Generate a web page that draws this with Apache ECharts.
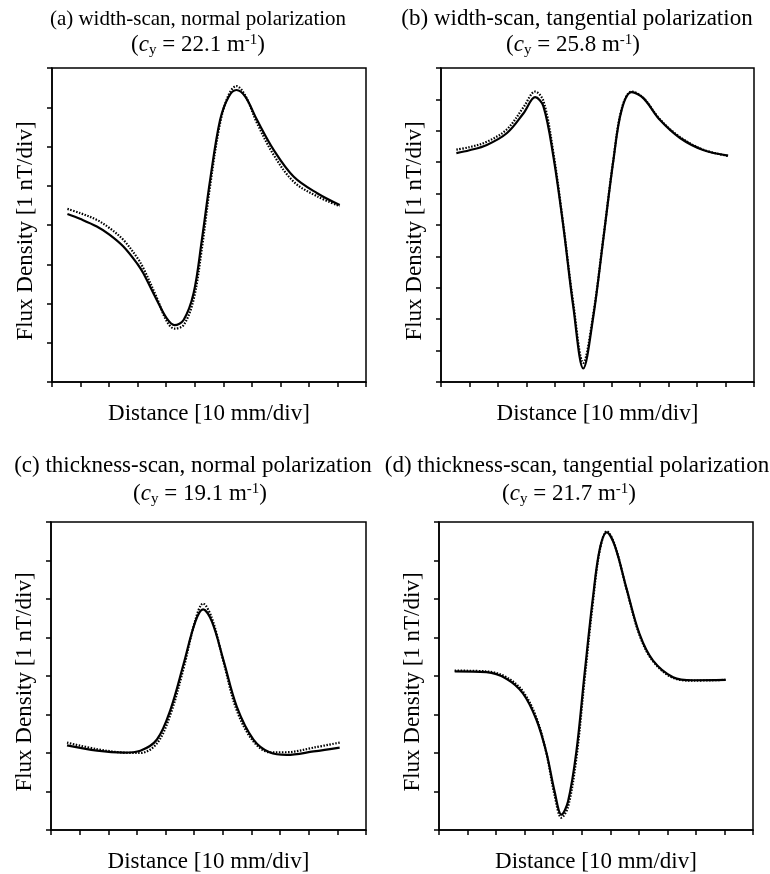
<!DOCTYPE html>
<html>
<head>
<meta charset="utf-8">
<script src="https://cdn.jsdelivr.net/npm/echarts@6/dist/echarts.min.js"></script>
<style>
html,body{margin:0;padding:0;background:#fff;}
#chart{width:770px;height:874px;}
</style>
</head>
<body>
<div id="chart"></div>
<script>
// ---- data (x in divisions of 10 mm, y in divisions of 1 nT) ----
const titlesLine1 = [
  "(a) width-scan, normal polarization",
  "(b) width-scan, tangential polarization",
  "(c) thickness-scan, normal polarization",
  "(d) thickness-scan, tangential polarization"
];
const cyValues = ["22.1", "25.8", "19.1", "21.7"];
const xAxisName = "Distance [10 mm/div]";
const yAxisName = "Flux Density [1 nT/div]";
const yDivs = [8, 10, 8, 8];
const xDivs = 11;

const xA = [0.54, 1.0, 1.57, 2.0, 2.5, 3.0, 3.2, 3.67, 4.02, 4.29, 4.61, 4.96, 5.25, 5.54, 5.89, 6.19, 6.46, 6.77, 7.18, 7.77, 8.47, 9.29, 10.08];
const solidA = [4.28, 4.15, 3.96, 3.76, 3.45, 3.0, 2.77, 2.09, 1.62, 1.45, 1.58, 2.26, 3.62, 5.15, 6.68, 7.27, 7.44, 7.27, 6.68, 5.91, 5.23, 4.81, 4.51];
const dotA = [4.41, 4.3, 4.13, 3.93, 3.62, 3.15, 2.9, 2.15, 1.55, 1.36, 1.45, 2.1, 3.4, 5.0, 6.6, 7.32, 7.54, 7.3, 6.6, 5.78, 5.10, 4.73, 4.48];

const xB = [0.54, 1.0, 1.61, 2.32, 2.9, 3.31, 3.6, 3.95, 4.3, 4.65, 5.0, 5.35, 5.7, 6.06, 6.35, 6.7, 7.11, 7.69, 8.4, 9.21, 10.09];
const solidB = [7.29, 7.38, 7.55, 7.93, 8.56, 9.07, 8.78, 7.18, 4.95, 2.39, 0.43, 2.07, 4.52, 7.07, 8.67, 9.23, 9.04, 8.35, 7.77, 7.39, 7.21];
const dotB = [7.4, 7.48, 7.65, 8.05, 8.75, 9.25, 8.95, 7.3, 5.0, 2.5, 0.61, 2.15, 4.55, 7.1, 8.7, 9.25, 9.05, 8.37, 7.8, 7.4, 7.2];

const xC = [0.56, 1.61, 2.54, 3.12, 3.7, 4.17, 4.63, 5.04, 5.31, 5.62, 6.03, 6.49, 7.07, 7.65, 8.23, 9.17, 10.08];
const solidC = [2.2, 2.06, 2.01, 2.06, 2.35, 3.12, 4.31, 5.41, 5.73, 5.41, 4.39, 3.2, 2.35, 2.01, 1.95, 2.04, 2.14];
const dotC = [2.27, 2.1, 2.01, 2.0, 2.25, 3.0, 4.2, 5.45, 5.88, 5.5, 4.35, 3.1, 2.3, 2.02, 2.02, 2.14, 2.27];

const xD = [0.55, 1.66, 2.36, 2.94, 3.41, 3.76, 4.05, 4.29, 4.52, 4.81, 5.1, 5.39, 5.63, 5.88, 6.16, 6.57, 7.03, 7.5, 8.2, 8.9, 10.04];
const solidD = [4.12, 4.1, 3.93, 3.55, 2.87, 2.02, 1.0, 0.4, 0.74, 2.02, 4.06, 6.02, 7.29, 7.73, 7.38, 6.27, 5.08, 4.4, 3.97, 3.89, 3.9];
const dotD = [4.14, 4.12, 3.97, 3.6, 2.92, 2.0, 0.9, 0.32, 0.6, 1.85, 3.9, 5.9, 7.25, 7.76, 7.4, 6.25, 5.05, 4.38, 3.95, 3.88, 3.9];

const panelX = [xA, xB, xC, xD];
const panelSolid = [solidA, solidB, solidC, solidD];
const panelDot = [dotA, dotB, dotC, dotD];

// ---- layout ----
const FONT = "'Liberation Serif','DejaVu Serif',serif";
const FS = 23;
const grids = [
  {left: 52, top: 68, width: 314, height: 314},
  {left: 441, top: 68, width: 313, height: 314},
  {left: 51, top: 522, width: 315, height: 314},
  {left: 439, top: 522, width: 314, height: 314}
];
const titlePos = [
  {x: 198, x2: 198, y1: 19, y2: 45, fs: 21},
  {x: 577, x2: 573, y1: 19, y2: 45, fs: 23},
  {x: 193, x2: 200, y1: 466, y2: 494, fs: 23},
  {x: 577, x2: 569, y1: 466, y2: 494, fs: 23}
];

const zip = (xs, ys) => xs.map((x, i) => [x, ys[i]]);

const option = {
  animation: false,
  backgroundColor: '#fff',
  grid: grids.map(g => Object.assign({show: true, borderColor: '#000', borderWidth: 1.5, containLabel: false}, g)),
  xAxis: grids.map((g, i) => ({
    gridIndex: i, type: 'value', min: 0, max: xDivs, interval: 1,
    name: xAxisName, nameLocation: 'middle', nameGap: 20,
    nameTextStyle: {fontFamily: FONT, fontSize: FS, color: '#000'},
    axisLine: {show: true, lineStyle: {color: '#000', width: 1.5}},
    axisTick: {show: true, inside: false, length: 5, lineStyle: {color: '#000', width: 1.5}},
    axisLabel: {show: false}, splitLine: {show: false}
  })),
  yAxis: grids.map((g, i) => ({
    gridIndex: i, type: 'value', min: 0, max: yDivs[i], interval: 1,
    name: yAxisName, nameLocation: 'middle', nameGap: 15, nameRotate: 90,
    nameTextStyle: {fontFamily: FONT, fontSize: FS, color: '#000', padding: [0, 12, 0, 0]},
    axisLine: {show: true, lineStyle: {color: '#000', width: 1.5}},
    axisTick: {show: true, inside: false, length: 5, lineStyle: {color: '#000', width: 1.5}},
    axisLabel: {show: false}, splitLine: {show: false}
  })),
  series: [],
  graphic: []
};

for (let i = 0; i < 4; i++) {
  option.series.push({
    type: 'line', xAxisIndex: i, yAxisIndex: i, data: zip(panelX[i], panelSolid[i]),
    smooth: 0.35, showSymbol: false, lineStyle: {color: '#000', width: 2.2}
  });
  option.series.push({
    type: 'line', xAxisIndex: i, yAxisIndex: i, data: zip(panelX[i], panelDot[i]),
    smooth: 0.35, showSymbol: false, lineStyle: {color: '#000', width: 2.2, type: [1.5, 1.5]}
  });
  option.graphic.push({
    type: 'text', x: titlePos[i].x, y: titlePos[i].y1,
    style: {text: titlesLine1[i], font: titlePos[i].fs + 'px ' + FONT, fill: '#000', align: 'center', verticalAlign: 'middle'}
  });
  option.graphic.push({
    type: 'text', x: titlePos[i].x2, y: titlePos[i].y2,
    style: {
      text: '(' + '{i|c}{sub|y}' + ' = ' + cyValues[i] + ' m{sup|-1})',
      fontFamily: FONT, fontSize: FS, fill: '#000', align: 'center', verticalAlign: 'middle',
      rich: {
        i: {fontFamily: FONT, fontSize: FS, fontStyle: 'italic', fill: '#000'},
        sub: {fontFamily: FONT, fontSize: 15, fill: '#000', verticalAlign: 'bottom', padding: [10, 0, 0, 0]},
        sup: {fontFamily: FONT, fontSize: 15, fill: '#000', verticalAlign: 'top', padding: [0, 0, 8, 0]}
      }
    }
  });
}

const chart = echarts.init(document.getElementById('chart'), null, {renderer: 'canvas'});
chart.setOption(option);
</script>
</body>
</html>
